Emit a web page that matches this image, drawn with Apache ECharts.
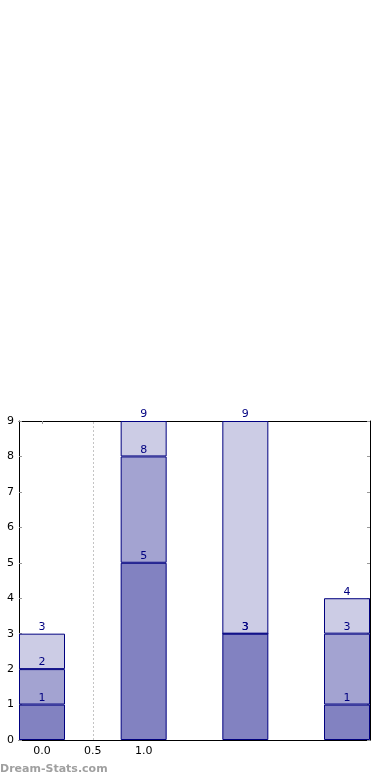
<!DOCTYPE html>
<html>
<head>
<meta charset="utf-8">
<script src="https://cdn.jsdelivr.net/npm/echarts@6/dist/echarts.min.js"></script>
<style>
html,body{margin:0;padding:0;background:#fff;}
#c{width:390px;height:780px;}
</style>
</head>
<body>
<div id="c"></div>
<script>
// Data
var categories = ['0', '1', '2', '3'];
var layer1 = [1, 5, 3, 1];
var layer2 = [1, 3, 0, 2];
var layer3 = [1, 1, 6, 1];
var xTickLabels = [0, 0.5, 1.0];
var yTicks = [0, 1, 2, 3, 4, 5, 6, 7, 8, 9];

var layers = [layer1, layer2, layer3];
var colors = ['#8282c1', '#a3a3d1', '#cccce5'];

var cum = [];
var run = categories.map(function(){return 0;});
layers.forEach(function(l){
  run = run.map(function(v,i){return v + l[i];});
  cum.push(run.slice());
});

var chart = echarts.init(document.getElementById('c'));
var font = 'DejaVu Sans';

var series = layers.map(function(l, li){
  return {
    type: 'bar',
    stack: 'total',
    barWidth: 46,
    xAxisIndex: 0,
    yAxisIndex: 0,
    data: l,
    itemStyle: {color: colors[li], borderColor: '#000080', borderWidth: 1},
    label: {
      show: true,
      position: 'top',
      distance: 1,
      color: '#000080',
      fontFamily: font,
      fontSize: 11,
      formatter: function(pr){ return String(cum[li][pr.dataIndex]); }
    },
    emphasis: {disabled: true},
    silent: true,
    z: 3
  };
});

series.push({
  type: 'line',
  xAxisIndex: 1,
  yAxisIndex: 1,
  data: [],
  silent: true,
  markLine: {
    silent: true,
    symbol: 'none',
    label: {show: false},
    lineStyle: {color: '#c4c4c4', type: [2, 2], width: 1},
    data: [{xAxis: 0.5}]
  },
  z: 1
});

var hiddenAxis = {
  axisLine: {show: false}, axisTick: {show: false}, axisLabel: {show: false}, splitLine: {show: false}
};

chart.setOption({
  animation: false,
  grid: [
    {left: 42, top: 421, width: 305, height: 319},
    {left: 19, top: 421, width: 351, height: 319}
  ],
  xAxis: [
    Object.assign({type: 'category', gridIndex: 0, data: categories, boundaryGap: false}, hiddenAxis),
    {
      type: 'value', gridIndex: 1, min: -0.225, max: 3.225, position: 'bottom',
      axisLine: {show: true, onZero: false, lineStyle: {color: '#000', width: 1}},
      axisTick: {show: true, inside: true, length: 3, customValues: [0, 1], lineStyle: {color: '#999'}},
      axisLabel: {show: true, customValues: xTickLabels, color: '#000', fontFamily: font, fontSize: 11, margin: 6,
        formatter: function(v){ return v.toFixed(1); }},
      splitLine: {show: false}
    },
    {
      type: 'value', gridIndex: 1, min: -0.225, max: 3.225, position: 'top',
      axisLine: {show: true, onZero: false, lineStyle: {color: '#000', width: 1}},
      axisTick: {show: true, inside: true, length: 3, customValues: [0, 1], lineStyle: {color: '#999'}},
      axisLabel: {show: false},
      splitLine: {show: false}
    }
  ],
  yAxis: [
    Object.assign({type: 'value', gridIndex: 0, min: 0, max: 9}, hiddenAxis),
    {
      type: 'value', gridIndex: 1, min: 0, max: 9, interval: 1, position: 'left',
      axisLine: {show: true, onZero: false, lineStyle: {color: '#000', width: 1}},
      axisTick: {show: true, inside: true, length: 3, lineStyle: {color: '#999'}},
      axisLabel: {color: '#000', fontFamily: font, fontSize: 11, margin: 5,
        formatter: function(v){ return yTicks.indexOf(v) >= 0 ? String(v) : ''; }},
      splitLine: {show: false}
    },
    {
      type: 'value', gridIndex: 1, min: 0, max: 9, interval: 1, position: 'right',
      axisLine: {show: true, onZero: false, lineStyle: {color: '#000', width: 1}},
      axisTick: {show: true, inside: true, length: 3, lineStyle: {color: '#999'}},
      axisLabel: {show: false},
      splitLine: {show: false}
    }
  ],
  graphic: [{
    type: 'text',
    left: 0,
    top: 764,
    style: {text: 'Dream-Stats.com', fill: '#a0a0a0', font: 'bold 11px "DejaVu Sans"'}
  }],
  series: series
});
</script>
</body>
</html>
